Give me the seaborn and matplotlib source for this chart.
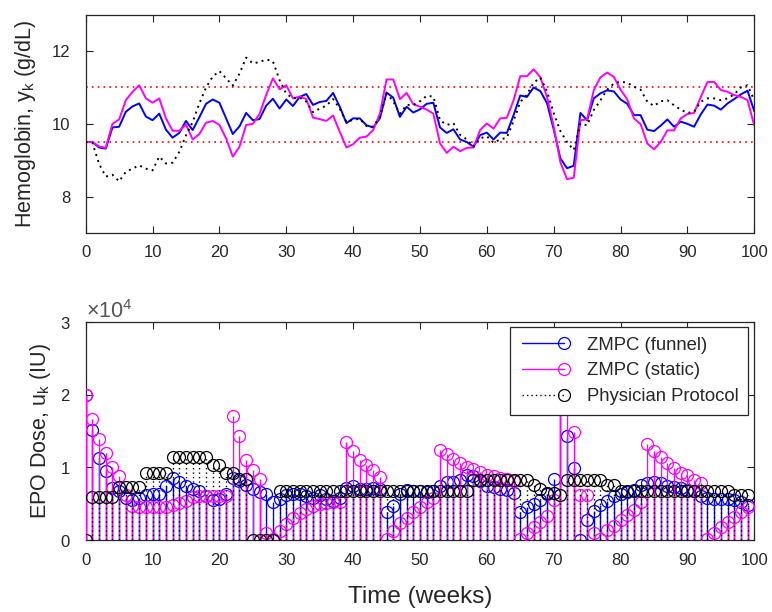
import numpy as np
import pandas as pd
import matplotlib
matplotlib.use("Agg")
import matplotlib.pyplot as plt
import seaborn as sns
from matplotlib.lines import Line2D
from matplotlib.legend_handler import HandlerBase
from matplotlib.ticker import ScalarFormatter

# ---------------- data ----------------
weeks_hb = list(range(0, 101))
hb_funnel = [9.5, 9.5, 9.35, 9.32, 9.9, 9.92, 10.33, 10.48, 10.56, 10.2,
             10.1, 10.28, 9.84, 9.62, 9.75, 10.08, 9.83, 10.18, 10.55, 10.67,
             10.58, 10.15, 9.72, 9.93, 10.3, 10.1, 10.13, 10.5, 10.69, 10.42,
             10.67, 10.49, 10.74, 10.82, 10.52, 10.6, 10.63, 10.85, 10.47, 10.02,
             10.15, 10.15, 9.96, 9.9, 10.15, 10.86, 10.72, 10.19, 10.47, 10.31,
             10.4, 10.55, 10.58, 9.9, 9.75, 9.85, 9.57, 9.5, 9.37, 9.69,
             9.76, 9.57, 9.76, 9.75, 10.24, 10.78, 10.74, 11.0, 10.9, 10.57,
             9.85, 9.05, 8.78, 8.85, 10.3, 10.1, 10.7, 10.84, 10.92, 10.89,
             10.67, 10.55, 10.24, 10.24, 9.84, 9.8, 9.95, 10.12, 9.92, 10.06,
             10.0, 9.92, 10.26, 10.53, 10.5, 10.39, 10.56, 10.68, 10.81, 10.91,
             10.35]
hb_static = [9.5, 9.5, 9.38, 9.34, 10.0, 10.12, 10.65, 10.88, 11.06, 10.7,
             10.58, 10.7, 10.15, 9.81, 9.81, 9.98, 9.57, 9.72, 10.03, 10.08,
             9.97, 9.6, 9.1, 9.37, 9.97, 10.0, 10.27, 10.8, 11.25, 10.95,
             11.06, 10.7, 10.75, 10.68, 10.17, 10.13, 10.08, 10.23, 9.78, 9.35,
             9.44, 9.62, 9.65, 9.83, 10.28, 11.22, 11.22, 10.68, 10.85, 10.54,
             10.47, 10.39, 10.28, 9.46, 9.2, 9.37, 9.25, 9.34, 9.35, 9.83,
             10.01, 9.87, 10.15, 10.17, 10.65, 11.31, 11.31, 11.5, 11.28, 10.74,
             9.93, 8.94, 8.48, 8.52, 10.1, 10.12, 10.93, 11.28, 11.41, 11.29,
             10.94, 10.67, 10.15, 9.99, 9.46, 9.3, 9.5, 9.82, 9.82, 10.15,
             10.27, 10.3, 10.74, 11.15, 11.15, 10.93, 10.88, 10.79, 10.74, 10.65,
             9.95]
hb_physician = [9.5, 9.48, 8.9, 8.55, 8.6, 8.42, 8.68, 8.77, 8.86, 8.77,
                8.72, 9.1, 8.91, 8.93, 9.23, 9.68, 10.05, 10.56, 11.0, 11.3,
                11.45, 11.25, 11.05, 11.38, 11.82, 11.66, 11.7, 11.77, 11.72, 11.2,
                10.83, 10.7, 10.72, 10.61, 10.32, 10.42, 10.5, 10.68, 10.42, 10.05,
                10.11, 10.14, 9.94, 9.92, 10.19, 10.84, 10.62, 10.28, 10.52, 10.52,
                10.62, 10.77, 10.75, 10.1, 9.97, 10.02, 9.7, 9.57, 9.37, 9.6,
                9.66, 9.48, 9.57, 9.62, 10.08, 10.6, 10.8, 11.13, 11.27, 10.9,
                10.3, 9.8, 9.5, 9.28, 10.01, 9.96, 10.38, 10.65, 10.94, 11.11,
                11.16, 11.13, 11.02, 10.94, 10.61, 10.49, 10.62, 10.65, 10.51, 10.39,
                10.3, 10.33, 10.61, 10.7, 10.7, 10.65, 10.7, 10.81, 11.0, 11.06,
                10.65]
hb_lower = 9.5
hb_upper = 11.0

weeks_dose = list(range(0, 100))
dose_funnel = [20000, 15200, 11300, 9500, 7200, 6800, 5800, 5500, 5800, 6200,
               6400, 6400, 7400, 8500, 8000, 7400, 7000, 6800, 6000, 5500,
               5600, 6400, 8600, 8200, 7600, 7000, 6600, 6300, 5200, 5700,
               6200, 6300, 6300, 6000, 5800, 6200, 5600, 5400, 5800, 7200,
               7400, 7000, 7000, 7100, 7000, 3900, 4700, 6300, 6900, 6700,
               6700, 6600, 6700, 7500, 8000, 8000, 8300, 9000, 8800, 8200,
               7500, 7300, 7000, 6900, 6500, 3900, 4500, 5000, 5500, 6300,
               8400, 21000, 14300, 9900, 0, 2700, 4000, 4800, 5400, 6000,
               6400, 6600, 6900, 7600, 7900, 8000, 7800, 7500, 7300, 7100,
               6900, 6700, 6000, 5800, 5700, 5700, 5700, 5500, 5300, 4800]
dose_static = [20000, 16700, 13900, 12000, 10000, 8800, 6200, 4700, 4500, 4500,
               4500, 4500, 4600, 4800, 5100, 5400, 5900, 6000, 6100, 6100,
               6100, 6100, 17100, 14300, 11000, 9700, 8400, 1000, 100, 1200,
               2200, 3000, 3700, 4300, 4700, 4900, 5100, 5200, 5300, 13500,
               12200, 11000, 10300, 9700, 8700, 100, 1300, 2300, 3100, 3800,
               4500, 5200, 5800, 12400, 11800, 11200, 10600, 10100, 9800, 9400,
               9000, 8800, 8600, 8400, 8100, 100, 1000, 1800, 2500, 3300,
               5500, 26000, 21000, 14900, 6200, 6200, 900, 200, 1400, 2000,
               2800, 3400, 4200, 5300, 13200, 12200, 11500, 10600, 9900, 9200,
               8900, 8300, 7800, 100, 900, 1800, 2500, 3200, 3900, 4600]
dose_physician = [0, 5900, 5900, 5900, 5900, 7300, 7300, 7300, 7300, 9200,
                  9200, 9200, 9200, 11400, 11400, 11400, 11400, 11400, 11400, 10300,
                  10300, 9200, 9200, 8400, 8400, 0, 0, 0, 0, 6700,
                  6700, 6700, 6700, 6700, 6700, 6700, 6700, 6700, 6700, 6700,
                  6700, 6700, 6700, 6700, 6700, 6700, 6700, 6700, 6700, 6700,
                  6700, 6700, 6700, 6700, 6700, 6700, 6700, 6700, 8300, 8300,
                  8300, 8300, 8300, 8300, 8300, 8300, 8300, 7600, 7000, 6500,
                  6500, 6200, 8300, 8300, 8300, 8300, 8300, 8300, 7600, 7600,
                  6700, 6700, 6700, 6700, 6700, 6700, 6700, 6700, 6700, 6700,
                  6700, 6700, 6700, 6700, 6700, 6700, 6700, 6200, 6200, 6200]

labels = ["ZMPC (funnel)", "ZMPC (static)", "Physician Protocol"]
colors = ["#0000ff", "#ff00ff", "#000000"]
dotted = (0, (1, 2.2))

# ---------------- style ----------------
sns.set_theme(style="ticks")
plt.rcParams.update({
    "font.family": ["Liberation Sans", "DejaVu Sans"],
    "mathtext.fontset": "custom",
    "mathtext.rm": "Liberation Sans",
    "mathtext.it": "Liberation Sans:italic",
    "xtick.direction": "in", "ytick.direction": "in",
    "xtick.top": True, "ytick.right": True,
    "xtick.major.size": 5, "ytick.major.size": 5,
    "xtick.major.width": 0.8, "ytick.major.width": 0.8,
    "xtick.major.pad": 9, "ytick.major.pad": 11,
    "xtick.labelsize": 12, "ytick.labelsize": 12,
    "xtick.color": "#262626", "ytick.color": "#262626",
    "axes.edgecolor": "#262626", "axes.linewidth": 0.9,
    "axes.labelcolor": "#262626",
})

fig = plt.figure(figsize=(7.72, 6.12), dpi=100)
ax1 = fig.add_axes([0.111, 0.6193, 0.866, 0.3567])
ax2 = fig.add_axes([0.111, 0.1176, 0.866, 0.3558])

# ---------------- top panel ----------------
df_hb = pd.DataFrame({"week": weeks_hb, "funnel": hb_funnel,
                      "static": hb_static, "physician": hb_physician})
sns.lineplot(data=df_hb, x="week", y="funnel", ax=ax1, color=colors[0],
             lw=1.4, estimator=None, zorder=3)
sns.lineplot(data=df_hb, x="week", y="static", ax=ax1, color=colors[1],
             lw=1.4, estimator=None, zorder=3.1)
sns.lineplot(data=df_hb, x="week", y="physician", ax=ax1, color=colors[2],
             lw=1.4, linestyle=dotted, estimator=None, zorder=3.2)
ax1.axhline(hb_upper, color="#ff0000", lw=1.2, linestyle=(0, (1, 2.5)), zorder=2)
ax1.axhline(hb_lower, color="#ff0000", lw=1.2, linestyle=(0, (1, 2.5)), zorder=2)
ax1.set_xlim(0, 100)
ax1.set_ylim(7, 13)
ax1.set_xticks(range(0, 101, 10))
ax1.set_yticks([8, 10, 12])
ax1.set_xlabel("")
ax1.set_ylabel(r"Hemoglobin, y$_\mathregular{k}$ (g/dL)", fontsize=15.5,
               va="baseline")
ax1.yaxis.set_label_coords(-0.082, 0.5)

# ---------------- bottom panel ----------------
series = [dose_funnel, dose_static, dose_physician]
for i, (vals, c) in enumerate(zip(series, colors)):
    ls = dotted if i == 2 else "-"
    ax2.vlines(weeks_dose, 0, vals, colors=c, lw=1.0, linestyles=[ls],
               zorder=2 + i)
    sns.lineplot(x=weeks_dose, y=vals, ax=ax2, marker="o", linestyle="",
                 mfc="none", mec=c, ms=8.6, mew=0.9, estimator=None,
                 zorder=2.5 + i)

ax2.set_xlim(0, 100)
ax2.set_ylim(0, 30000)
ax2.set_xticks(range(0, 101, 10))
ax2.set_yticks([0, 10000, 20000, 30000])
fmt = ScalarFormatter(useMathText=True)
fmt.set_powerlimits((0, 0))
ax2.yaxis.set_major_formatter(fmt)
ax2.yaxis.get_offset_text().set_fontsize(15.5)
ax2.yaxis.get_offset_text().set_color("#555555")
ax2.set_xlabel("Time (weeks)", fontsize=17.5, va="baseline")
ax2.xaxis.set_label_coords(0.5, -0.29)
ax2.set_ylabel(r"EPO Dose, u$_\mathregular{k}$ (IU)", fontsize=15.5,
               va="baseline")
ax2.yaxis.set_label_coords(-0.06, 0.5)


class StemHandler(HandlerBase):
    def create_artists(self, legend, orig_handle, xdescent, ydescent,
                       width, height, fontsize, trans):
        y = height / 2 - ydescent
        x0, x1 = -xdescent, -xdescent + width
        ln = Line2D([x0 + 0.07 * width, x1], [y, y])
        ln.update_from(orig_handle)
        ln.set_marker("")
        mk = Line2D([x1], [y])
        mk.update_from(orig_handle)
        mk.set_linestyle("")
        ln.set_transform(trans)
        mk.set_transform(trans)
        return [ln, mk]


handles = []
for i, c in enumerate(colors):
    handles.append(Line2D([], [], color=c, lw=1.0,
                          linestyle=dotted if i == 2 else "-",
                          marker="o", ms=8.6, mfc="none", mec=c, mew=0.9))
leg = ax2.legend(handles, labels, loc="upper right",
                 bbox_to_anchor=(0.9906, 0.978), fontsize=13.3,
                 handler_map={Line2D: StemHandler()},
                 frameon=True, fancybox=False, framealpha=1,
                 edgecolor="#262626", handlelength=2.4, handletextpad=1.25,
                 labelspacing=0.47, borderpad=0.52, borderaxespad=0.0)
leg.get_frame().set_linewidth(0.9)
leg.set_zorder(10)

fig.savefig("out.png", dpi=100)
